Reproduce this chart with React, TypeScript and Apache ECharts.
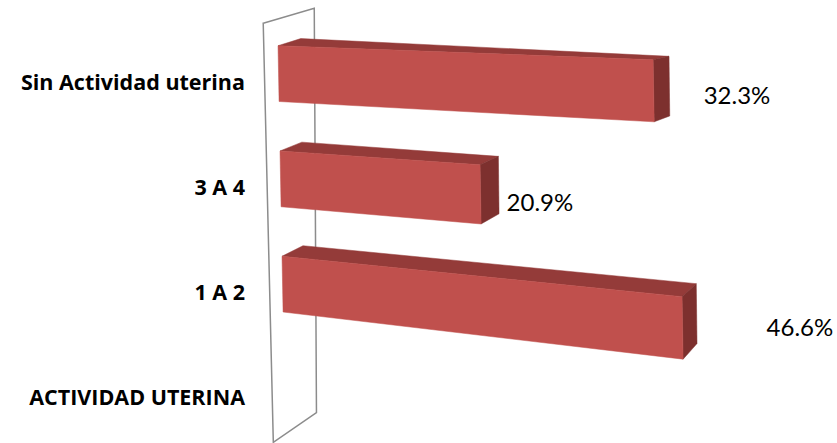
import React, { useEffect, useRef } from 'react';
import * as echarts from 'echarts';

// ---------- data ----------
const CATEGORIES = ['ACTIVIDAD UTERINA', '1 A 2', '3 A 4', 'Sin Actividad uterina'];
const VALUES: (number | null)[] = [null, 46.6, 20.9, 32.3];
const VALUE_MIN = 0;
const VALUE_MAX = 50;

// ---------- layout / style ----------
const LABEL_DX = [0, 84, 26, 50];
const LABEL_DY = [0, -1, 7, 4];
const BAR_RATIO = 0.53;
const COLORS = { front: '#C0504D', top: '#943B39', side: '#7D302E', wall: '#8C8C8C' };
const P = { K: 6.706, H: -0.1101, G: -0.001151, C: 0.000303, E: 0.02336, ZF: 0.28, ZB: 0.73 };
const WALL_INSET_TOP = -2;
const WALL_INSET_BOTTOM = 8;

// perspective-like projection of a flat (value, row) point at depth z
function project(u: number, y0: number, wRow: number, z: number, leftX: number): number[] {
  const dX = (P.K * u) / (1 + P.H * wRow + P.G * u);
  const x = leftX + 0.019 * (y0 - 150) + dX;
  const y = y0 + (P.C * y0 + P.E) * dX;
  const dxFull = (51 - (8 * (y0 - 21)) / 421) * (1 - 0.0008 * dX);
  const dyFull = -(15 + (15 * (y0 - 21)) / 421) + dX * (0.03 - 0.00017 * y0);
  return [x + (z - P.ZF) * dxFull, y + (z - P.ZF) * dyFull];
}

const barData = VALUES.map((v, i) => (v == null ? null : [v, i])).filter((d) => d !== null) as number[][];

export default function App() {
  const ref = useRef<HTMLDivElement>(null);
  useEffect(() => {
    if (!ref.current) return;
    const chart = echarts.init(ref.current, null, { renderer: 'svg' });
    const option: any = {
      animation: false,
      backgroundColor: '#ffffff',
      grid: { left: 280, top: 21, width: 500, height: 421 },
      xAxis: {
        type: 'value',
        min: VALUE_MIN,
        max: VALUE_MAX,
        show: false,
        splitLine: { show: false },
      },
      yAxis: {
        type: 'category',
        data: CATEGORIES,
        axisLine: { show: false },
        axisTick: { show: false },
        splitLine: { show: false },
        axisLabel: {
          margin: 35,
          color: '#000000',
          fontFamily: 'Open Sans',
          fontWeight: 'bold',
          fontSize: 21.5,
          verticalAlign: 'top',
          lineHeight: 15,
        },
      },
      series: [
        {
          type: 'custom',
          name: 'wall',
          z: 1,
          silent: true,
          data: [[VALUE_MIN, 0]],
          renderItem: (params: any, api: any) => {
            const cs = params.coordSys;
            const o = api.coord([VALUE_MIN, 0]);
            const slot = api.size([0, 1])[1];
            const top = cs.y + WALL_INSET_TOP;
            const bot = cs.y + cs.height - WALL_INSET_BOTTOM;
            const pr = (yy: number, z: number) => project(0, yy, (cs.y + cs.height - yy) / slot, z, o[0]);
            return {
              type: 'polygon',
              shape: { points: [pr(top, 0), pr(top, 1), pr(bot, 1), pr(bot, 0)] },
              style: { fill: 'none', stroke: COLORS.wall, lineWidth: 1.5 },
            };
          },
        },
        {
          type: 'custom',
          name: 'bars',
          z: 2,
          data: barData,
          renderItem: (params: any, api: any) => {
            const cs = params.coordSys;
            const v = api.value(0);
            const idx = api.value(1);
            const o = api.coord([VALUE_MIN, idx]);
            const e = api.coord([v, idx]);
            const unit = api.size([1, 0])[0];
            const slot = api.size([0, 1])[1];
            const u = (e[0] - o[0]) / unit;
            const half = (slot * BAR_RATIO) / 2;
            const wRow = (cs.y + cs.height - o[1]) / slot;
            const yt = o[1] - half;
            const yb = o[1] + half;
            const pr = (uu: number, yy: number, z: number) => project(uu, yy, wRow, z, o[0]);
            const ZF = P.ZF;
            const ZB = P.ZB;
            const lab = pr(u, o[1], ZF);
            return {
              type: 'group',
              children: [
                {
                  type: 'polygon',
                  shape: { points: [pr(0, yt, ZF), pr(u, yt, ZF), pr(u, yt, ZB), pr(0, yt, ZB)] },
                  style: { fill: COLORS.top, stroke: COLORS.top, lineWidth: 0.5 },
                },
                {
                  type: 'polygon',
                  shape: { points: [pr(u, yt, ZF), pr(u, yt, ZB), pr(u, yb, ZB), pr(u, yb, ZF)] },
                  style: { fill: COLORS.side, stroke: COLORS.side, lineWidth: 0.5 },
                },
                {
                  type: 'polygon',
                  shape: { points: [pr(0, yt, ZF), pr(u, yt, ZF), pr(u, yb, ZF), pr(0, yb, ZF)] },
                  style: { fill: COLORS.front, stroke: COLORS.front, lineWidth: 0.5 },
                },
                {
                  type: 'text',
                  x: lab[0] + LABEL_DX[idx],
                  y: lab[1] + LABEL_DY[idx],
                  style: {
                    text: v.toFixed(1) + '%',
                    fill: '#000000',
                    fontFamily: 'Lato',
                    fontSize: 24,
                    align: 'left',
                    verticalAlign: 'middle',
                  },
                },
              ],
            };
          },
        },
      ],
    };
    chart.setOption(option);
    return () => chart.dispose();
  }, []);
  return (
    <div
      ref={ref}
      style={{ position: 'fixed', left: 0, top: 0, width: 837, height: 443, background: '#fff' }}
    />
  );
}
